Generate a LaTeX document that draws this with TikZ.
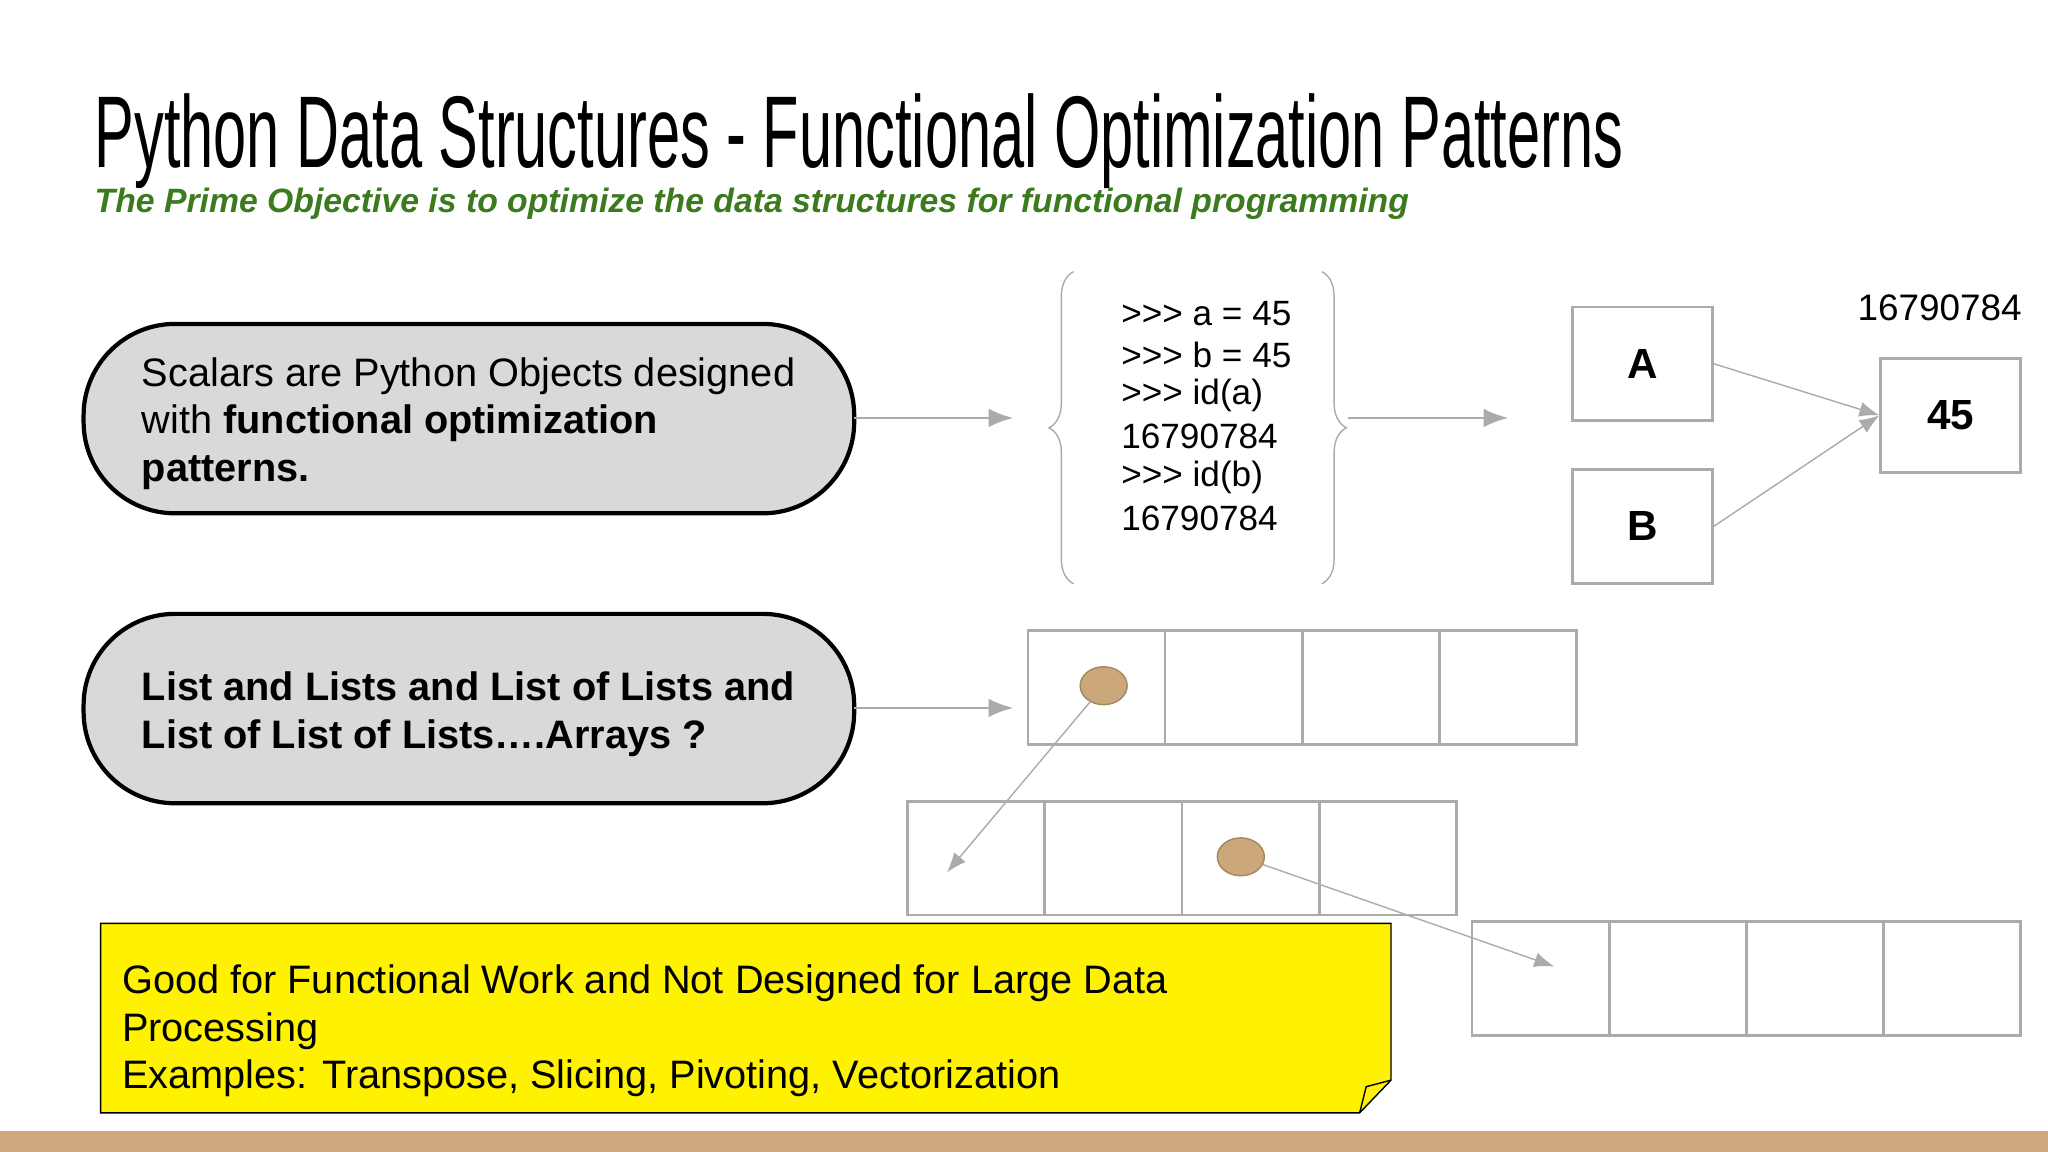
\documentclass[tikz,border=0pt]{standalone}
\usepackage{fontspec}
\setmainfont{Liberation Sans}
\usetikzlibrary{arrows.meta,decorations.pathreplacing,shapes.geometric}
\definecolor{pillgray}{HTML}{D9D9D9}
\definecolor{titlegreen}{HTML}{3C7A1E}
\definecolor{dottan}{HTML}{CCA77A}
\definecolor{bartan}{HTML}{CFA87D}
\definecolor{linegray}{HTML}{ABABAB}
\tikzset{
  pill/.style={draw=black,very thick,fill=pillgray,rounded corners=26pt},
  cell/.style={draw=linegray,thick,minimum width=105*0.01306cm,minimum height=87*0.01306cm,inner sep=0pt},
  gbox/.style={draw=linegray,thick,minimum width=107*0.01306cm,minimum height=87*0.01306cm,font=\bfseries\large},
  gray arrow/.style={linegray,thick,-{Latex[length=2.5mm]}},
  thin arrow/.style={linegray,-{Latex[length=2mm]}},
  dot/.style={ellipse,fill=dottan,draw=dottan!80!black,minimum width=36*0.01306cm,minimum height=29*0.01306cm,inner sep=0pt},
  codeline/.style={anchor=west,font=\fontsize{10}{12}\selectfont,inner sep=0pt}
}
\begin{document}
\begin{tikzpicture}[x=0.01306cm,y=-0.01306cm]
  \useasboundingbox (0,0) rectangle (1568,882);
  \fill[white] (0,0) rectangle (1568,882);
  \fill[bartan] (0,866) rectangle (1568,882);

  % title
  \node[anchor=base west,inner sep=0pt] (title) at (72,128)
    {\fontsize{29}{30}\selectfont\scalebox{0.584}[1]{Python Data Structures - Functional Optimization Patterns}};
  \node[anchor=base west,inner sep=0pt,text=titlegreen,font=\bfseries\itshape\fontsize{9.6}{11}\selectfont] (sub) at (72,163)
    {The Prime Objective is to optimize the data structures for functional programming};

  % pills
  \draw[pill] (64,248) rectangle (654,393);
  \node[anchor=north west,align=left,font=\fontsize{11.3}{13.6}\selectfont,inner sep=0pt] (scal) at (108,273)
    {Scalars are Python Objects designed\\with \textbf{functional optimization}\\\textbf{patterns.}};
  \draw[pill] (64,470) rectangle (654,615);
  \node[anchor=north west,align=left,font=\bfseries\fontsize{11.3}{13.6}\selectfont,inner sep=0pt] (lists) at (108,514)
    {List and Lists and List of Lists and\\List of List of Lists\dots.Arrays ?};

  \coordinate (p1) at (654,320);
  \coordinate (c1) at (776,320);
  \draw[gray arrow] (p1) -- (c1);
  \coordinate (p2) at (654,542);
  \coordinate (c2) at (776,542);
  \draw[gray arrow] (p2) -- (c2);

  % code block
  \draw[linegray,decorate,decoration={brace,amplitude=7pt}] (822,447) -- (822,208);
  \draw[linegray,decorate,decoration={brace,amplitude=7pt}] (1012,208) -- (1012,447);
  \foreach \t [count=\i from 0] in {{>{}>{}> a = 45},{>{}>{}> b = 45},{>{}>{}> id(a)},16790784,{>{}>{}> id(b)},16790784}
    \node[codeline] (code\i) at (858,{240+31.4*\i}) {\t};
  \coordinate (r1) at (1032,320);
  \coordinate (r2) at (1155,320);
  \draw[gray arrow] (r1) -- (r2);

  % references
  \node[gbox] (boxA) at (1257.5,278.5) {A};
  \node[gbox] (boxB) at (1257.5,403) {B};
  \node[gbox] (val) at (1493.5,318) {45};
  \node[font=\fontsize{10.5}{12}\selectfont] (addr) at (1485,236) {16790784};
  \draw[thin arrow] (boxA.east) -- (val.west);
  \draw[thin arrow] (boxB.east) -- (val.west);

  % arrays
  \foreach \i in {0,...,3} {
    \node[cell] (ra\i) at ({839.5+105*\i},526.5) {};
    \node[cell] (rb\i) at ({747.5+105*\i},657) {};
    \node[cell] (rc\i) at ({1179.5+105*\i},749) {};
  }
  \node[dot] (d1) at (845,525) {};
  \node[dot] (d2) at (950,656) {};
  \coordinate (t1) at (725,668);
  \coordinate (t2) at (1190,740);
  \draw[thin arrow] (d1) -- (t1);
  \draw[thin arrow] (d2) -- (t2);

  % note
  \draw[fill=yellow] (77,707) -- (1065,707) -- (1065,827) -- (1041,852) -- (77,852) -- cycle;
  \draw (1041,852) -- (1046,832) -- (1065,827);
  \node[anchor=north west,align=left,font=\fontsize{11.3}{13.6}\selectfont,inner sep=0pt] (note) at (93,738)
    {Good for Functional Work and Not Designed for Large Data\\Processing\\Examples: Transpose, Slicing, Pivoting, Vectorization};
\end{tikzpicture}
\end{document}
